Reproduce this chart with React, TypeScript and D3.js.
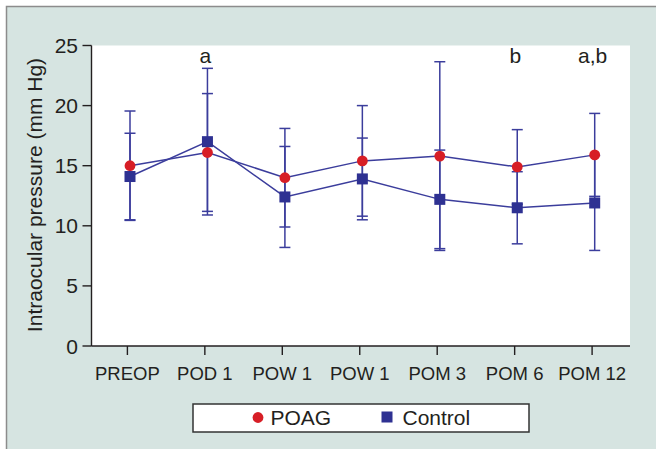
import React, { useEffect, useRef } from 'react';
import * as d3 from 'd3';

const categories = ['PREOP', 'POD 1', 'POW 1', 'POW 1', 'POM 3', 'POM 6', 'POM 12'];
const poagMean = [15.0, 16.1, 14.0, 15.4, 15.8, 14.9, 15.9];
const poagSD = [4.55, 4.9, 4.1, 4.6, 7.85, 3.1, 3.45];
const controlMean = [14.1, 17.0, 12.4, 13.9, 12.2, 11.5, 11.9];
const controlSD = [3.6, 6.1, 4.2, 3.4, 4.1, 3.0, 3.95];
const annotations = ['', 'a', '', '', '', 'b', 'a,b'];
const yTicks = [0, 5, 10, 15, 20, 25];

const W = 656;
const H = 449;
const FONT = '"Liberation Sans", Arial, sans-serif';
const BLUE = '#3b3d9c';
const SQUARE = '#2e3192';
const RED = '#d71e26';

const App: React.FC = () => {
  const svgRef = useRef<SVGSVGElement>(null);

  useEffect(() => {
    if (!svgRef.current) return;
    const svg = d3.select(svgRef.current);
    svg.selectAll('*').remove();

    const plot = { left: 91.5, right: 630, top: 45.5, bottom: 346 };

    // outer frame
    svg.append('rect').attr('width', W).attr('height', H).attr('fill', '#ffffff');
    svg.append('rect')
      .attr('x', 6.5).attr('y', 6.5)
      .attr('width', W).attr('height', H)
      .attr('fill', '#d6e4e1')
      .attr('stroke', '#8c8c8c')
      .attr('stroke-width', 1.5);

    svg.append('rect')
      .attr('x', plot.left).attr('y', plot.top)
      .attr('width', plot.right - plot.left).attr('height', plot.bottom - plot.top)
      .attr('fill', '#ffffff');

    const x = d3.scalePoint<number>()
      .domain(d3.range(categories.length))
      .range([130, 594.7]);
    const tickShift = -2.6;

    const y = d3.scaleLinear().domain([0, 25]).range([plot.bottom, plot.top]);

    // axes
    const axis = svg.append('g').attr('stroke', '#231f20').attr('stroke-width', 1.4);
    axis.append('line')
      .attr('x1', plot.left).attr('x2', plot.left)
      .attr('y1', plot.top).attr('y2', plot.bottom);
    axis.append('line')
      .attr('x1', plot.left).attr('x2', plot.right)
      .attr('y1', plot.bottom).attr('y2', plot.bottom);

    axis.selectAll('line.yt')
      .data(yTicks)
      .join('line')
      .attr('class', 'yt')
      .attr('x1', plot.left - 9).attr('x2', plot.left)
      .attr('y1', d => y(d)).attr('y2', d => y(d));

    axis.selectAll('line.xt')
      .data(d3.range(categories.length))
      .join('line')
      .attr('class', 'xt')
      .attr('x1', d => x(d)! + tickShift).attr('x2', d => x(d)! + tickShift)
      .attr('y1', plot.bottom).attr('y2', plot.bottom + 9);

    svg.append('g')
      .selectAll('text')
      .data(yTicks)
      .join('text')
      .attr('x', 78)
      .attr('y', d => y(d))
      .attr('dy', '0.36em')
      .attr('text-anchor', 'end')
      .attr('font-family', FONT)
      .attr('font-size', 21)
      .attr('fill', '#231f20')
      .text(d => d);

    svg.append('g')
      .selectAll('text')
      .data(categories)
      .join('text')
      .attr('x', (_, i) => x(i)! + tickShift)
      .attr('y', 380)
      .attr('text-anchor', 'middle')
      .attr('font-family', FONT)
      .attr('font-size', 18.5)
      .attr('fill', '#231f20')
      .text(d => d);

    svg.append('text')
      .attr('transform', `translate(42,195) rotate(-90)`)
      .attr('text-anchor', 'middle')
      .attr('font-family', FONT)
      .attr('font-size', 21)
      .attr('fill', '#231f20')
      .text('Intraocular pressure (mm Hg)');

    // significance letters
    svg.append('g')
      .selectAll('text')
      .data(annotations)
      .join('text')
      .attr('x', (_, i) => x(i)! - 2)
      .attr('y', 63)
      .attr('text-anchor', 'middle')
      .attr('font-family', FONT)
      .attr('font-size', 21)
      .attr('fill', '#231f20')
      .text(d => d);

    const series = [
      { mean: poagMean, sd: poagSD },
      { mean: controlMean, sd: controlSD },
    ];

    const line = d3.line<number>()
      .x((_, i) => x(i)!)
      .y(d => y(d));

    const marks = svg.append('g');

    series.forEach(s => {
      marks.append('path')
        .attr('d', line(s.mean))
        .attr('fill', 'none')
        .attr('stroke', BLUE)
        .attr('stroke-width', 1.5);
    });

    // error bars
    series.forEach(s => {
      const g = marks.append('g').attr('stroke', BLUE).attr('stroke-width', 1.5);
      s.mean.forEach((m, i) => {
        const cx = x(i)!;
        const hi = y(m + s.sd[i]);
        const lo = y(m - s.sd[i]);
        g.append('line').attr('x1', cx).attr('x2', cx).attr('y1', hi).attr('y2', lo);
        g.append('line').attr('x1', cx - 5.5).attr('x2', cx + 5.5).attr('y1', hi).attr('y2', hi);
        g.append('line').attr('x1', cx - 5.5).attr('x2', cx + 5.5).attr('y1', lo).attr('y2', lo);
      });
    });

    marks.append('g')
      .selectAll('circle')
      .data(poagMean)
      .join('circle')
      .attr('cx', (_, i) => x(i)!)
      .attr('cy', d => y(d))
      .attr('r', 5.4)
      .attr('fill', RED);

    marks.append('g')
      .selectAll('rect')
      .data(controlMean)
      .join('rect')
      .attr('x', (_, i) => x(i)! - 5.5)
      .attr('y', d => y(d) - 5.5)
      .attr('width', 11)
      .attr('height', 11)
      .attr('fill', SQUARE);

    // legend
    const legend = svg.append('g');
    legend.append('rect')
      .attr('x', 193).attr('y', 404)
      .attr('width', 336).attr('height', 28)
      .attr('fill', '#ffffff')
      .attr('stroke', '#333333')
      .attr('stroke-width', 1.5);
    legend.append('circle').attr('cx', 258).attr('cy', 417.5).attr('r', 5.4).attr('fill', RED);
    legend.append('text')
      .attr('x', 270.5).attr('y', 425)
      .attr('font-family', FONT).attr('font-size', 21).attr('fill', '#231f20')
      .text('POAG');
    legend.append('rect')
      .attr('x', 381.5).attr('y', 411.5).attr('width', 11).attr('height', 11)
      .attr('fill', SQUARE);
    legend.append('text')
      .attr('x', 402.5).attr('y', 425)
      .attr('font-family', FONT).attr('font-size', 21).attr('fill', '#231f20')
      .text('Control');
  }, []);

  return (
    <svg
      ref={svgRef}
      width={W}
      height={H}
      style={{ position: 'absolute', left: 0, top: 0, display: 'block' }}
    />
  );
};

export default App;
